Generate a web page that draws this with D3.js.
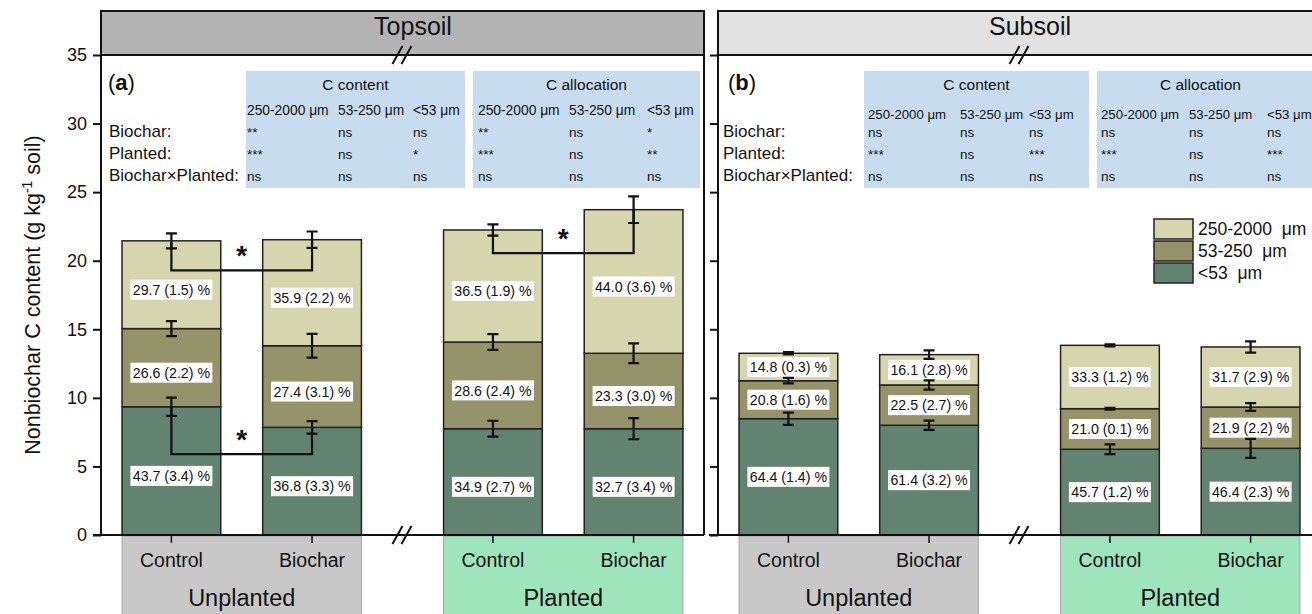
<!DOCTYPE html>
<html>
<head>
<meta charset="utf-8">
<script src="https://cdn.jsdelivr.net/npm/d3@7"></script>
<style>
  body { margin: 0; background: #fff; }
  svg { display: block; font-family: "Liberation Sans", Arial, sans-serif; }
</style>
</head>
<body>
<svg id="chart" width="1312" height="614"></svg>
<script>
// ---- data ---------------------------------------------------------------
const panels = ["Topsoil", "Subsoil"];
const panelTags = ["a", "b"];
const groups = ["Unplanted", "Planted"];
const treatments = ["Control", "Biochar"];
const fractionKeys = ["fine", "mid", "coarse"];               // stacked bottom -> top
const legendLabels = ["250-2000  μm", "53-250  μm", "<53  μm"]; // legend top -> bottom
const yTicks = [0, 5, 10, 15, 20, 25, 30, 35];

// Nonbiochar C (g kg-1 soil); bar order: Unplanted Control, Unplanted Biochar, Planted Control, Planted Biochar
const topFine   = [9.35, 7.85, 7.75, 7.75];
const topMid    = [5.70, 5.95, 6.32, 5.50];
const topCoarse = [6.40, 7.73, 8.17, 10.47];
const topFineErr   = [0.66, 0.46, 0.58, 0.77];
const topMidErr    = [0.55, 0.86, 0.57, 0.72];
const topCoarseErr = [0.55, 0.60, 0.41, 0.97];
const topFinePct   = ["43.7 (3.4) %", "36.8 (3.3) %", "34.9 (2.7) %", "32.7 (3.4) %"];
const topMidPct    = ["26.6 (2.2) %", "27.4 (3.1) %", "28.6 (2.4) %", "23.3 (3.0) %"];
const topCoarsePct = ["29.7 (1.5) %", "35.9 (2.2) %", "36.5 (1.9) %", "44.0 (3.6) %"];

const subFine   = [8.48, 8.00, 6.25, 6.32];
const subMid    = [2.77, 2.94, 2.96, 3.01];
const subCoarse = [2.00, 2.21, 4.62, 4.38];
const subFineErr   = [0.45, 0.34, 0.36, 0.69];
const subMidErr    = [0.20, 0.34, 0.07, 0.28];
const subCoarseErr = [0.08, 0.31, 0.07, 0.41];
const subFinePct   = ["64.4 (1.4) %", "61.4 (3.2) %", "45.7 (1.2) %", "46.4 (2.3) %"];
const subMidPct    = ["20.8 (1.6) %", "22.5 (2.7) %", "21.0 (0.1) %", "21.9 (2.2) %"];
const subCoarsePct = ["14.8 (0.3) %", "16.1 (2.8) %", "33.3 (1.2) %", "31.7 (2.9) %"];

// significant Control vs Biochar differences (topsoil): fraction layer, bar pair, bracket level (g kg-1)
const bracketLayer = [2, 0, 2];
const bracketFrom  = [0, 0, 2];
const bracketTo    = [1, 1, 3];
const bracketLevel = [19.3, 5.9, 20.55];

// ANOVA summary tables
const sigRowLabels = ["Biochar:", "Planted:", "Biochar×Planted:"];
const sigColumns = ["250-2000 μm", "53-250 μm", "<53 μm"];
const tableTitles = ["C content", "C allocation"];
const topContentSig = [["**", "ns", "ns"], ["***", "ns", "*"], ["ns", "ns", "ns"]];
const topAllocSig   = [["**", "ns", "*"], ["***", "ns", "**"], ["ns", "ns", "ns"]];
const subContentSig = [["ns", "ns", "ns"], ["***", "ns", "***"], ["ns", "ns", "ns"]];
const subAllocSig   = [["ns", "ns", "ns"], ["***", "ns", "***"], ["ns", "ns", "ns"]];

// ---- assemble -----------------------------------------------------------
const panelData = [
  { mean: [topFine, topMid, topCoarse], err: [topFineErr, topMidErr, topCoarseErr],
    pct: [topFinePct, topMidPct, topCoarsePct], tables: [topContentSig, topAllocSig], brackets: true },
  { mean: [subFine, subMid, subCoarse], err: [subFineErr, subMidErr, subCoarseErr],
    pct: [subFinePct, subMidPct, subCoarsePct], tables: [subContentSig, subAllocSig], brackets: false }
];

const colors = { fine: "#628371", mid: "#949369", coarse: "#d6d6ae" };
const legendColors = [colors.coarse, colors.mid, colors.fine];
const headerFill = ["#b3b3b3", "#e2e2e2"];
const groupFill = ["#c8c8c8", "#9ee5bd"];

const svg = d3.select("#chart");
const W = 1312, H = 614;
const plotTop = 55, plotBottom = 535, headerTop = 11;
const panelLeft = [101, 718];
const panelWidth = 603;

const y = d3.scaleLinear().domain([0, 35]).range([plotBottom, plotTop]);

panels.forEach((pname, p) => {
  const pd = panelData[p];
  const x0 = panelLeft[p];
  const outer = d3.scaleBand().domain(groups).range([x0, x0 + panelWidth])
    .paddingInner(0.2555).paddingOuter(0.0654);
  const inner = d3.scaleBand().domain(treatments).range([0, outer.bandwidth()])
    .paddingInner(0.298).paddingOuter(0);
  const barX = i => outer(groups[Math.floor(i / 2)]) + inner(treatments[i % 2]);
  const bw = inner.bandwidth();
  const cx = i => barX(i) + bw / 2;

  const g = svg.append("g");

  // group boxes under the axis
  groups.forEach((grp, k) => {
    g.append("rect").attr("x", outer(grp)).attr("y", plotBottom + 1)
      .attr("width", outer.bandwidth()).attr("height", H - plotBottom)
      .attr("fill", groupFill[k]).attr("stroke", "#a8a8a8").attr("stroke-width", 1);
    g.append("text").attr("x", outer(grp) + outer.bandwidth() / 2).attr("y", 606)
      .attr("text-anchor", "middle").attr("font-size", 23.5).attr("fill", "#111").text(grp);
  });

  // header strip
  g.append("rect").attr("x", x0).attr("y", headerTop)
    .attr("width", panelWidth).attr("height", plotTop - headerTop)
    .attr("fill", headerFill[p]).attr("stroke", "#111").attr("stroke-width", 2);
  g.append("text").attr("x", x0 + 312).attr("y", 35).attr("text-anchor", "middle")
    .attr("font-size", 25).attr("fill", "#111").text(pname);

  // stacked bars
  const rows = d3.range(4).map(i => ({ i, fine: pd.mean[0][i], mid: pd.mean[1][i], coarse: pd.mean[2][i] }));
  const stacked = d3.stack().keys(fractionKeys)(rows);

  stacked.forEach(layer => {
    g.append("g").selectAll("rect").data(layer).join("rect")
      .attr("x", (d, i) => barX(i)).attr("width", bw)
      .attr("y", d => y(d[1])).attr("height", d => y(d[0]) - y(d[1]))
      .attr("fill", colors[layer.key]).attr("stroke", "#222").attr("stroke-width", 1.5);
  });

  // percentage labels (share of each fraction, with SE)
  stacked.forEach((layer, li) => {
    layer.forEach((d, i) => {
      const cy = (y(d[0]) + y(d[1])) / 2 + (p === 0 ? 5 : 0);
      const lab = g.append("g").attr("transform", `translate(${cx(i)},${cy})`);
      lab.append("rect").attr("x", -41).attr("y", -10).attr("width", 82).attr("height", 20).attr("fill", "#fff");
      lab.append("text").attr("text-anchor", "middle").attr("dy", "0.36em")
        .attr("font-size", 14.2).attr("fill", "#111").text(pd.pct[li][i]);
    });
  });

  // significance brackets (drawn beneath error bars)
  if (pd.brackets) {
    bracketLayer.forEach((li, k) => {
      const a = bracketFrom[k], b = bracketTo[k];
      const ya = y(stacked[li][a][1]), yb = y(stacked[li][b][1]), yl = y(bracketLevel[k]);
      g.append("path")
        .attr("d", `M${cx(a)},${ya}V${yl}H${cx(b)}V${yb}`)
        .attr("fill", "none").attr("stroke", "#111").attr("stroke-width", 2.2);
      g.append("text").attr("x", (cx(a) + cx(b)) / 2).attr("y", yl - 21 + 15.5)
        .attr("text-anchor", "middle").attr("font-size", 28).attr("font-weight", "bold")
        .attr("fill", "#111").text("*");
    });
  }

  // error bars at the top of each fraction
  stacked.forEach((layer, li) => {
    layer.forEach((d, i) => {
      const e = pd.err[li][i];
      const yTop = y(d[1] + e), yBot = y(d[1] - e), x = cx(i);
      g.append("path")
        .attr("d", `M${x - 5.5},${yTop}H${x + 5.5}M${x},${yTop}V${yBot}M${x - 5.5},${yBot}H${x + 5.5}`)
        .attr("fill", "none").attr("stroke", "#111").attr("stroke-width", 2.2);
    });
  });

  // frame lines
  g.append("line").attr("x1", x0).attr("x2", x0).attr("y1", headerTop).attr("y2", plotBottom)
    .attr("stroke", "#111").attr("stroke-width", 2);
  if (p === 0) {
    g.append("line").attr("x1", x0 + panelWidth).attr("x2", x0 + panelWidth)
      .attr("y1", headerTop).attr("y2", plotBottom).attr("stroke", "#111").attr("stroke-width", 2);
  }

  // y axis
  const yAxis = d3.axisLeft(y).tickValues(yTicks).tickSize(8).tickPadding(6)
    .tickFormat(p === 0 ? d3.format("d") : () => "");
  const ya = g.append("g").attr("transform", `translate(${x0},0)`).call(yAxis);
  ya.select(".domain").remove();
  ya.selectAll(".tick line").attr("stroke", "#111").attr("stroke-width", 2);
  ya.selectAll(".tick text").attr("font-size", 18).attr("fill", "#111")
    .attr("font-family", "\"Liberation Sans\", Arial, sans-serif");

  // x axis baseline and ticks
  const xEnd = p === 0 ? x0 + panelWidth : W;
  g.append("line").attr("x1", x0 - (p === 0 ? 8 : 9)).attr("x2", xEnd).attr("y1", plotBottom).attr("y2", plotBottom)
    .attr("stroke", "#111").attr("stroke-width", 2);
  d3.range(4).forEach(i => {
    g.append("line").attr("x1", cx(i)).attr("x2", cx(i)).attr("y1", plotBottom).attr("y2", plotBottom + 8)
      .attr("stroke", "#111").attr("stroke-width", 1.5);
    g.append("text").attr("x", cx(i)).attr("y", 567).attr("text-anchor", "middle")
      .attr("font-size", 19.5).attr("fill", "#111").text(treatments[i % 2]);
  });

  // axis break marks between the groups
  const bx = (outer(groups[0]) + outer.bandwidth() + outer(groups[1])) / 2;
  [plotTop, plotBottom].forEach(by => {
    g.append("path")
      .attr("d", `M${bx - 10},${by + 9}L${bx},${by - 9}M${bx - 1},${by + 9}L${bx + 9},${by - 9}`)
      .attr("fill", "none").attr("stroke", "#111").attr("stroke-width", 2);
  });

  // panel tag
  const tag = g.append("text").attr("x", x0 + (p === 0 ? 7 : 10)).attr("y", 90).attr("font-size", 22).attr("fill", "#111");
  tag.append("tspan").text("(");
  tag.append("tspan").attr("font-weight", "bold").text(panelTags[p]);
  tag.append("tspan").text(")");

  // ANOVA tables
  const rowY = [137, 159, 181];
  const rowX = x0 + (p === 0 ? 8 : 5);
  sigRowLabels.forEach((r, k) => {
    g.append("text").attr("x", rowX).attr("y", rowY[k]).attr("font-size", 17).attr("fill", "#111").text(r);
  });
  const boxes = p === 0 ? [[246, 465], [473, 700]] : [[864, 1089], [1097, 1330]];
  const colOff = p === 0 ? [[1, 92, 167], [5, 96, 174]] : [[4, 96, 165], [4, 92, 170]];
  const headSize = p === 0 ? 13.8 : 13.2;
  boxes.forEach(([bx0, bx1], t) => {
    const tb = g.append("g");
    tb.append("rect").attr("x", bx0).attr("y", 71).attr("width", bx1 - bx0).attr("height", 117)
      .attr("fill", "#c7ddef");
    tb.append("text").attr("x", (bx0 + Math.min(bx1, 1320)) / 2 + (p === 1 && t === 1 ? -8 : 0)).attr("y", 90)
      .attr("text-anchor", "middle").attr("font-size", 15.5).attr("fill", "#111").text(tableTitles[t]);
    sigColumns.forEach((c, j) => {
      tb.append("text").attr("x", bx0 + colOff[t][j]).attr("y", p === 0 ? 115 : 119)
        .attr("font-size", headSize).attr("fill", "#111").text(c);
      pd.tables[t].forEach((row, k) => {
        tb.append("text").attr("x", bx0 + colOff[t][j]).attr("y", rowY[k] - 0.5)
          .attr("font-size", 13.5).attr("fill", "#111").text(row[j]);
      });
    });
  });
});

// y axis title
const yt = svg.append("text").attr("transform", "translate(40,295) rotate(-90)")
  .attr("text-anchor", "middle").attr("font-size", 21.5).attr("fill", "#111");
yt.append("tspan").text("Nonbiochar C content (g kg");
yt.append("tspan").attr("dy", -8).attr("font-size", 14).text("-1");
yt.append("tspan").attr("dy", 8).text(" soil)");

// legend
const lg = svg.append("g").attr("transform", "translate(1154,219)");
legendLabels.forEach((lab, k) => {
  lg.append("rect").attr("x", 0).attr("y", k * 22).attr("width", 39).attr("height", 20)
    .attr("fill", legendColors[k]).attr("stroke", "#222").attr("stroke-width", 1.5);
  lg.append("text").attr("x", 44).attr("y", k * 22 + 10).attr("dy", "0.36em")
    .attr("font-size", 17.5).attr("fill", "#111").style("white-space", "pre").text(lab);
});
</script>
</body>
</html>
